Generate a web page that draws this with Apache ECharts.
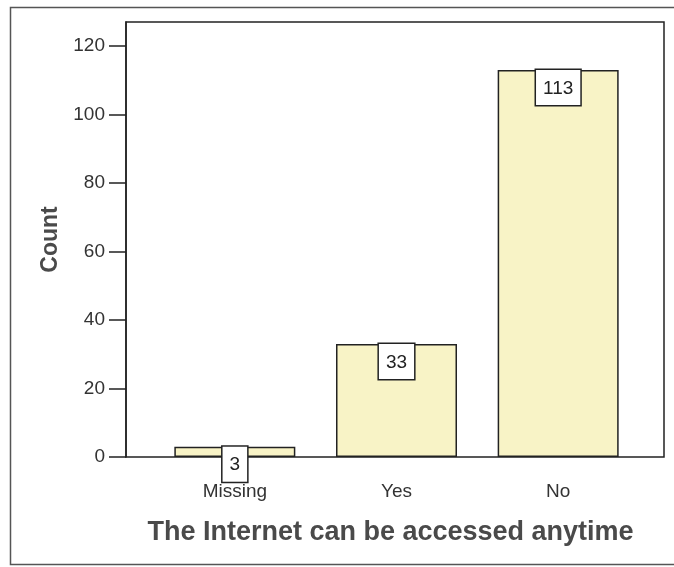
<!DOCTYPE html>
<html><head><meta charset="utf-8">
<script src="https://cdn.jsdelivr.net/npm/echarts@6/dist/echarts.min.js"></script>
<style>html,body{margin:0;padding:0;background:#fff}#c{width:674px;height:567px}</style>
</head><body><div id="c"></div>
<script>
const categories = ['Missing', 'Yes', 'No'];
const counts = [3, 33, 113];
const yTicks = [0, 20, 40, 60, 80, 100, 120];
const yMax = 127;

const chart = echarts.init(document.getElementById('c'), null, {renderer: 'canvas'});
const font = '"Liberation Sans", Arial, sans-serif';
chart.setOption({
  animation: false,
  backgroundColor: '#fff',
  graphic: [{
    type: 'rect', left: 8, top: 5,
    shape: {width: 666, height: 557},
    style: {fill: 'none', stroke: '#555', lineWidth: 1.5}
  }],
  grid: [
    {left: 126, right: 10, top: 22, bottom: 110, show: true, borderColor: '#222', borderWidth: 1.5, backgroundColor: '#fff'},
    {left: 154, right: 35, top: 22, bottom: 110}
  ],
  xAxis: [
    {gridIndex: 0, type: 'value', min: 0, max: 1, show: false},
    {gridIndex: 1, type: 'category', data: categories,
     axisLine: {show: false}, axisTick: {show: false},
     axisLabel: {color: '#333', fontSize: 19, fontFamily: font, margin: 25},
     name: 'The Internet can be accessed anytime', nameLocation: 'middle', nameGap: 62,
     nameTextStyle: {color: '#4a4a4a', fontSize: 27, fontWeight: 'bold', fontFamily: font, padding: [0, 12, 0, 0]}}
  ],
  yAxis: [
    {gridIndex: 0, type: 'value', min: 0, max: yMax,
     axisLine: {show: true, lineStyle: {color: '#222', width: 1.5}},
     axisTick: {show: true, length: 17, customValues: yTicks, lineStyle: {color: '#222', width: 1.5}},
     axisLabel: {color: '#333', fontSize: 19, fontFamily: font, margin: 21, customValues: yTicks},
     splitLine: {show: false},
     name: 'Count', nameLocation: 'middle', nameGap: 64,
     nameTextStyle: {color: '#4a4a4a', fontSize: 23, fontWeight: 'bold', fontFamily: font}},
    {gridIndex: 1, type: 'value', min: 0, max: yMax, show: false, splitLine: {show: false}}
  ],
  series: [{
    type: 'bar', xAxisIndex: 1, yAxisIndex: 1,
    data: counts, barWidth: 121,
    itemStyle: {color: '#f8f3c6', borderColor: '#222', borderWidth: 1.5},
    label: {show: true, position: 'insideTop', distance: 0,
      color: '#222', fontSize: 19, fontFamily: font,
      backgroundColor: '#fff', borderColor: '#222', borderWidth: 1.5,
      padding: [9, 7, 7, 7]}
  }]
});
</script></body></html>
